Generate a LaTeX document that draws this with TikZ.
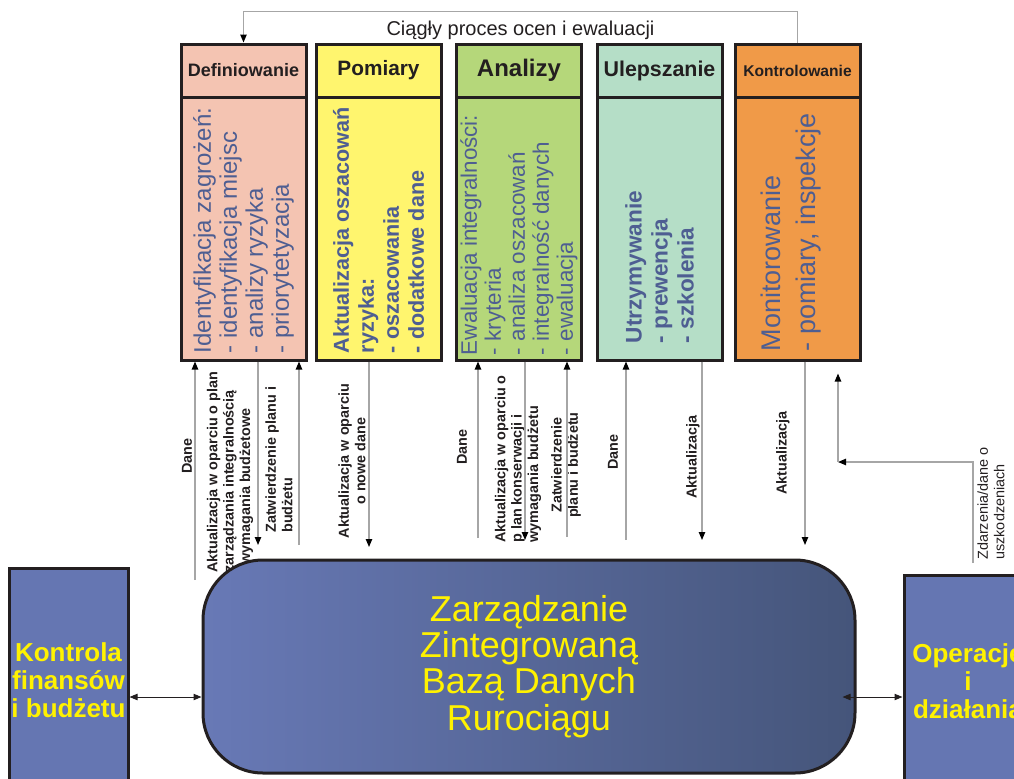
\documentclass[tikz,border=0pt]{standalone}
\usepackage{fontspec}
\setmainfont{Liberation Sans}
\usetikzlibrary{arrows.meta,positioning}
\definecolor{DefFill}{HTML}{F4C4B2}
\definecolor{PomFill}{HTML}{FFF56E}
\definecolor{AnaFill}{HTML}{B5D77A}
\definecolor{UlepFill}{HTML}{B5DEC7}
\definecolor{KonFill}{HTML}{F09A48}
\definecolor{BoxInk}{HTML}{231F20}
\definecolor{PhaseInk}{HTML}{4E5E92}
\definecolor{FlowGray}{HTML}{A6A6A6}
\definecolor{DbLeft}{HTML}{6879B6}
\definecolor{DbRight}{HTML}{45557A}
\definecolor{SideFill}{HTML}{6576B2}
\definecolor{TitleYellow}{HTML}{FFF200}
\newcommand{\setfs}[2]{\fontsize{#1}{#2}\selectfont}

\begin{document}
\begin{tikzpicture}[
    x=0.5pt, y=-0.5pt,
    head/.style={
        draw=BoxInk,
        line width=1.5pt,
        minimum width=62.5pt,
        minimum height=26.5pt,
        inner sep=1pt,
        text=BoxInk
    },
    phase/.style={draw=BoxInk, line width=1.5pt,
                  minimum width=62.5pt, minimum height=131.5pt},
    phase text/.style={rotate=90, anchor=west, align=left,
                       inner sep=0pt, text=PhaseInk},
    flow/.style={draw=FlowGray, line width=0.6pt,
                 -{Triangle[length=4pt,width=3.2pt,color=black]}},
    flow label/.style={rotate=90, inner sep=0pt, text=BoxInk,
                       font=\bfseries\setfs{7.2}{8.2}},
    side/.style={draw=BoxInk, line width=1.5pt, fill=SideFill,
                 text=TitleYellow, align=center, inner xsep=1pt,
                 font=\bfseries\setfs{13}{14}},
    link/.style={draw=BoxInk, line width=0.5pt,
                 {Triangle[length=4pt,width=3.2pt]}-{Triangle[length=4pt,width=3.2pt]}}
]
    \useasboundingbox (0,0) rectangle (1014,778);
    \clip (0,0) rectangle (1014,778);

    \foreach \n/\x/\fillc/\title/\tsize in {def/243.5/DefFill/Definiowanie/9,
        pom/378.5/PomFill/Pomiary/10.4, ana/519/AnaFill/Analizy/12,
        ulep/659.5/UlepFill/Ulepszanie/10.7, kon/797.5/KonFill/Kontrolowanie/7.8} {
        \node[head, fill=\fillc, font=\bfseries\setfs{\tsize}{\tsize}]
            (\n head) at (\x,70.5) {\title};
        \node[phase, fill=\fillc] (\n body) at (\x,228.5) {};
    }

    \node[phase text, font=\setfs{12}{13}] (deftext) at ([yshift=4pt]defbody.south)
        {Identyfikacja zagrożeń:\\- identyfikacja miejsc\\- analizy ryzyka\\- priorytetyzacja};
    \node[phase text, font=\bfseries\setfs{10.8}{12.5}] (pomtext) at ([yshift=4pt]pombody.south)
        {Aktualizacja oszacowań\\ryzyka:\\- oszacowania\\- dodatkowe dane};
    \node[phase text, font=\setfs{11.2}{12}] (anatext) at ([yshift=3pt]anabody.south)
        {Ewaluacja integralności:\\- kryteria\\- analiza oszacowań\\- integralność danych\\- ewaluacja};
    \node[phase text, font=\bfseries\setfs{11.3}{13}] (uleptext) at ([yshift=9pt]ulepbody.south)
        {Utrzymywanie\\- prewencja\\- szkolenia};
    \node[phase text, font=\setfs{13.5}{17.5}] (kontext) at ([xshift=-3pt,yshift=5pt]konbody.south)
        {Monitorowanie\\- pomiary, inspekcje};

    % feedback loop over the phases
    \draw[flow] (konhead.north) -- ++(0,-31) -| node[pos=0.25, below=1pt,
        font=\setfs{10}{12}, text=BoxInk] (looplabel)
        {Ciągły proces ocen i ewaluacji} (defhead.north);

    % labels of the data flows
    \node[flow label] (defdane) at (187,456) {Dane};
    \node[flow label, anchor=west, align=left] (defupd) at (230,573)
        {Aktualizacja w oparciu o plan\\zarządzania integralnością\\i wymagania budżetowe};
    \node[flow label, anchor=west, align=left] (defok) at (279,533)
        {Zatwierdzenie planu i\\budżetu};
    \node[flow label, align=center] (pomupd) at (352,461)
        {Aktualizacja w oparciu\\o nowe dane};
    \node[flow label] (anadane) at (462,447) {Dane};
    \node[flow label, anchor=west, align=left] (anaupd) at (518,543)
        {Aktualizacja w oparciu o\\p lan konserwacji i\\wymagania budżetu};
    \node[flow label, align=center] (anaok) at (566,465)
        {Zatwierdzenie\\planu i budżetu};
    \node[flow label] (ulepdane) at (613,452) {Dane};
    \node[flow label] (ulepupd) at (693,457) {Aktualizacja};
    \node[flow label] (konupd) at (783,453) {Aktualizacja};
    \node[flow label, anchor=west, align=left, font=\setfs{7.2}{8.2}] (konev)
        at (991,560) {Zdarzenia/dane o\\uszkodzeniach};

    % flows into the phases
    \foreach \c/\x/\y/\col in {a/195/580/def, b/299/545/def, c/478/538/ana,
                               d/567/537/ana, e/626/540/ulep} {
        \coordinate (up\c) at (\x,\y);
        \draw[flow] (up\c) -- (up\c |- \col body.south);
    }
    % flows out of the phases
    \foreach \c/\x/\y/\col in {f/258/545/def, g/369/547/pom, h/525/540/ana,
                               i/702/540/ulep, j/805/545/kon} {
        \coordinate (down\c) at (\x,\y);
        \draw[flow] (down\c |- \col body.south) -- (down\c);
    }
    \coordinate (evfoot) at (973,563);
    \coordinate (evjoint) at (838,462);
    \draw[flow] (evfoot) |- (evjoint);
    \draw[flow, shorten >=6pt] (evjoint) -- (evjoint |- konbody.south);

    \node[draw=BoxInk, line width=1.5pt, rounded corners=30pt,
          left color=DbLeft, right color=DbRight,
          minimum width=326pt, minimum height=106.5pt,
          text=TitleYellow, align=center, font=\setfs{18}{18.2}] (db) at (529,666.5)
        {Zarządzanie\\Zintegrowaną\\Bazą Danych\\Rurociągu};

    \node[side, minimum width=59.5pt, minimum height=112pt] (fin) at (68.5,680)
        {Kontrola\\finansów\\i budżetu};
    \node[side, minimum width=64pt, minimum height=106pt] (ops) at (968,681)
        {Operacje\\i\\działania};

    \draw[link] ([yshift=-8.5pt]fin.east) -- ([yshift=-15.25pt]db.west);
    \draw[link] ([xshift=-7pt,yshift=-15.25pt]db.east) -- ([yshift=-8pt]ops.west);
\end{tikzpicture}
\end{document}
